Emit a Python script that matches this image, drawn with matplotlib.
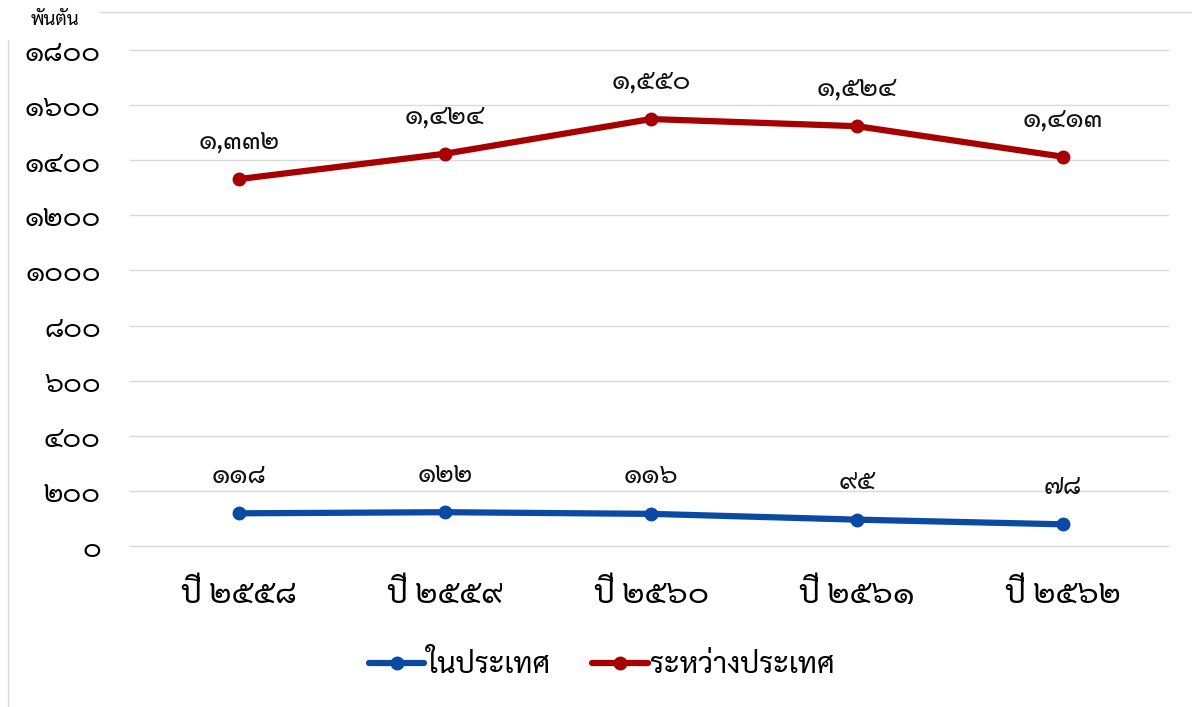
import matplotlib
matplotlib.use("Agg")
import matplotlib.pyplot as plt
from matplotlib.lines import Line2D

# ฟอนต์ไทย (มีหัว) สำหรับตัวเลขไทย
plt.rcParams['font.family'] = ['Sarabun', 'IBM Plex Sans Thai Looped', 'DejaVu Sans']

years = ['ปี ๒๕๕๘', 'ปี ๒๕๕๙', 'ปี ๒๕๖๐', 'ปี ๒๕๖๑', 'ปี ๒๕๖๒']
domestic = [118, 122, 116, 95, 78]
international = [1332, 1424, 1550, 1524, 1413]
series_names = ['ในประเทศ', 'ระหว่างประเทศ']
yticks = [0, 200, 400, 600, 800, 1000, 1200, 1400, 1600, 1800]

thai_digits = str.maketrans('0123456789', '๐๑๒๓๔๕๖๗๘๙')

def to_thai(v, comma=True):
    s = f'{v:,}' if comma else str(v)
    return s.translate(thai_digits)

blue = '#0b4aa2'
red = '#a60000'

fig = plt.figure(figsize=(11.92, 7.07), dpi=100)
ax = fig.add_axes([0.109, 0.228, 0.871, 0.701])

x = range(len(years))
ax.plot(x, domestic, color=blue, lw=4.5, marker='o', ms=9, label=series_names[0], solid_capstyle='round')
ax.plot(x, international, color=red, lw=4.5, marker='o', ms=9, label=series_names[1], solid_capstyle='round')

for i, v in enumerate(domestic):
    ax.annotate(to_thai(v), (i, v), xytext=(0, 27), textcoords='offset points',
                ha='center', va='center', fontsize=19.5, color='#111111')
for i, v in enumerate(international):
    ax.annotate(to_thai(v), (i, v), xytext=(0, 27), textcoords='offset points',
                ha='center', va='center', fontsize=19.5, color='#111111')

ax.set_xlim(-0.53, 4.51)
ax.set_ylim(0, 1800)
ax.set_yticks(yticks)
ax.set_yticklabels([to_thai(t, comma=False) for t in yticks], fontsize=20.5)
ax.set_xticks(list(x))
ax.set_xticklabels(years, fontsize=23)
ax.tick_params(axis='y', length=0, pad=21)
ax.tick_params(axis='x', length=0, pad=24)
ax.grid(axis='y', color='#d9d9d9', lw=1, clip_on=False)
ax.set_axisbelow(True)
for s in ax.spines.values():
    s.set_visible(False)

fig.text(0.046, 0.972, 'พันตัน', fontsize=13.5, ha='center', va='center')

# กรอบแผนภูมิด้านซ้ายและด้านบน
fig.add_artist(Line2D([0.007, 0.007], [0.0, 0.943], transform=fig.transFigure, color='#d9d9d9', lw=1))
fig.add_artist(Line2D([0.084, 1.0], [0.983, 0.983], transform=fig.transFigure, color='#d9d9d9', lw=1))

fig.legend(loc='center', bbox_to_anchor=(0.505, 0.058), ncol=2, frameon=False,
           fontsize=21, handlelength=1.9, columnspacing=1.4, handletextpad=0.1)

fig.savefig('out.png', dpi=100)
